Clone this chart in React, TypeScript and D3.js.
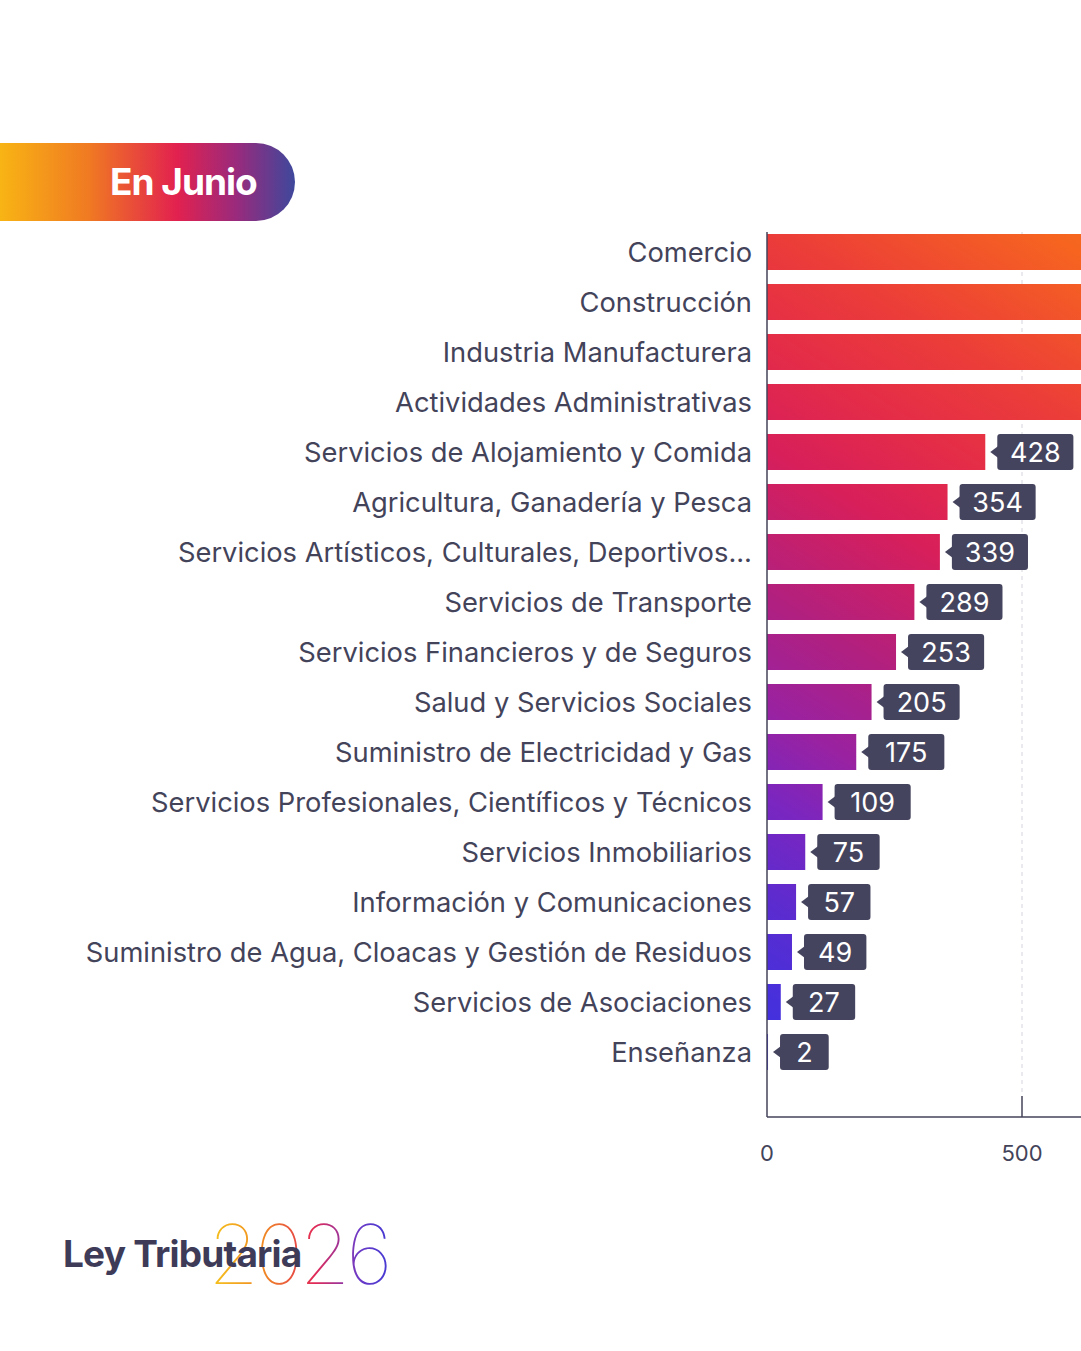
import * as d3 from 'd3';
import { useEffect, useRef } from 'react';

// categories, top to bottom
const sectors = [
    'Comercio',
    'Construcción',
    'Industria Manufacturera',
    'Actividades Administrativas',
    'Servicios de Alojamiento y Comida',
    'Agricultura, Ganadería y Pesca',
    'Servicios Artísticos, Culturales, Deportivos...',
    'Servicios de Transporte',
    'Servicios Financieros y de Seguros',
    'Salud y Servicios Sociales',
    'Suministro de Electricidad y Gas',
    'Servicios Profesionales, Científicos y Técnicos',
    'Servicios Inmobiliarios',
    'Información y Comunicaciones',
    'Suministro de Agua, Cloacas y Gestión de Residuos',
    'Servicios de Asociaciones',
    'Enseñanza'
];

// first four run past the right edge of the picture, values estimated
const counts = [1412, 1005, 873, 654, 428, 354, 339, 289, 253, 205, 175, 109, 75, 57, 49, 27, 2];

const xTicks = [0, 500];

const barStops = [
    { offset: 0, color: '#4030e0' },
    { offset: 0.06, color: '#4630dc' },
    { offset: 0.14, color: '#5a2cd0' },
    { offset: 0.23, color: '#7a26c0' },
    { offset: 0.31, color: '#9a22a0' },
    { offset: 0.4, color: '#b02080' },
    { offset: 0.53, color: '#d81f5a' },
    { offset: 0.62, color: '#e42c48' },
    { offset: 0.72, color: '#ec3e38' },
    { offset: 0.86, color: '#f66420' },
    { offset: 1, color: '#fa7a14' }
];

const pillStops = [
    { offset: 0, color: '#f8b414' },
    { offset: 0.3, color: '#f07a22' },
    { offset: 0.6, color: '#e2214f' },
    { offset: 0.8, color: '#9a2a7c' },
    { offset: 1, color: '#3e489c' }
];

const yearStops = [
    { offset: 0, color: '#f5c41c' },
    { offset: 0.3, color: '#f08a22' },
    { offset: 0.6, color: '#e22a56' },
    { offset: 0.85, color: '#6e3ac6' },
    { offset: 1, color: '#4a3ad2' }
];

const W = 1081;
const H = 1351;
const textColor = '#43435a';
const boxColor = '#45445e';
const font = 'Inter, "Noto Sans", sans-serif';

export default function App() {
    const ref = useRef<any>();

    useEffect(() => {
        const svg = d3.select(ref.current);
        svg.selectAll('*').remove();
        svg.attr('width', W).attr('height', H);

        const x = d3.scaleLinear().domain([0, 500]).range([767, 1022]);
        const y = d3.scaleBand().domain(sectors).range([227, 1077]).paddingInner(0.28).paddingOuter(0.14);

        const defs = svg.append('defs');
        const addGrad = (id: string, stops: any[], x1: number, y1: number, x2: number, y2: number) => {
            const g = defs.append('linearGradient').attr('id', id)
                .attr('gradientUnits', 'userSpaceOnUse')
                .attr('x1', x1).attr('y1', y1).attr('x2', x2).attr('y2', y2);
            g.selectAll('stop').data(stops).join('stop')
                .attr('offset', (d: any) => d.offset)
                .attr('stop-color', (d: any) => d.color);
        };
        addGrad('barGrad', barStops, 767, 1070, 1300, 230);
        addGrad('pillGrad', pillStops, 0, 0, 295, 0);
        addGrad('yearGrad', yearStops, 210, 0, 384, 0);

        // header pill
        const pill = svg.append('g');
        pill.append('path')
            .attr('d', 'M0,143 H256 A39,39 0 0 1 256,221 H0 Z')
            .attr('fill', 'url(#pillGrad)');
        pill.append('text')
            .attr('x', 110).attr('y', 195)
            .attr('fill', '#fff')
            .attr('font-family', font)
            .attr('font-weight', 700)
            .attr('font-size', 37)
            .attr('letter-spacing', -1)
            .text('En Junio');

        // grid
        svg.append('line')
            .attr('x1', x(500)).attr('x2', x(500))
            .attr('y1', 232).attr('y2', 1096)
            .attr('stroke', '#d6d6de').attr('stroke-dasharray', '4,4');

        // bars
        svg.append('g').selectAll('rect').data(counts).join('rect')
            .attr('x', x(0))
            .attr('y', (d: any, i: number) => y(sectors[i]))
            .attr('width', (d: any) => x(d) - x(0))
            .attr('height', y.bandwidth())
            .attr('fill', 'url(#barGrad)');

        // axes
        const axis = svg.append('g').attr('stroke', textColor).attr('stroke-width', 1.5);
        axis.append('line').attr('x1', 767).attr('x2', 767).attr('y1', 232).attr('y2', 1117);
        axis.append('line').attr('x1', 767).attr('x2', W).attr('y1', 1117).attr('y2', 1117);
        axis.selectAll('.tick').data(xTicks.filter(t => t > 0)).join('line')
            .attr('x1', (d: any) => x(d)).attr('x2', (d: any) => x(d))
            .attr('y1', 1096).attr('y2', 1117);
        svg.append('g').selectAll('text').data(xTicks).join('text')
            .attr('x', (d: any) => x(d)).attr('y', 1161)
            .attr('text-anchor', 'middle')
            .attr('fill', textColor)
            .attr('font-family', font)
            .attr('font-size', 22)
            .text((d: any) => d);

        // category labels
        svg.append('g').selectAll('text').data(sectors).join('text')
            .attr('x', 752)
            .attr('y', (d: any) => (y(d) as number) + y.bandwidth() / 2)
            .attr('dy', '0.35em')
            .attr('text-anchor', 'end')
            .attr('fill', textColor)
            .attr('font-family', font)
            .attr('font-size', 27.3)
            .text((d: any) => d);

        // value tags
        const tags = svg.append('g').selectAll('g').data(counts).join('g')
            .attr('transform', (d: any, i: number) => `translate(${x(d)},${(y(sectors[i]) as number) + y.bandwidth() / 2})`);
        tags.each(function (d: any) {
            const g = d3.select(this);
            const label = String(d);
            const bw = 35 + label.length * 13.7;
            g.append('rect')
                .attr('x', 12).attr('y', -18)
                .attr('width', bw).attr('height', 36)
                .attr('rx', 3)
                .attr('fill', boxColor);
            g.append('path')
                .attr('d', 'M5,0 L13,-6 L13,6 Z')
                .attr('fill', boxColor);
            g.append('text')
                .attr('x', 12 + bw / 2).attr('y', 0)
                .attr('dy', '0.36em')
                .attr('text-anchor', 'middle')
                .attr('fill', '#fff')
                .attr('font-family', font)
                .attr('font-size', 27)
                .text(label);
        });

        // logo
        svg.append('text')
            .attr('x', 208).attr('y', 1284)
            .attr('fill', 'url(#yearGrad)')
            .attr('font-family', 'Inter, Lato, sans-serif')
            .attr('font-weight', 100)
            .attr('font-size', 82)
            .attr('letter-spacing', -4)
            .text('2026');
        svg.append('text')
            .attr('x', 63).attr('y', 1267)
            .attr('fill', '#3d3b58')
            .attr('font-family', font)
            .attr('font-weight', 700)
            .attr('font-size', 37)
            .attr('letter-spacing', -0.8)
            .text('Ley Tributaria');
    }, []);

    return (
        <svg ref={ref} style={{ position: 'absolute', left: 0, top: 0, background: '#fff' }}></svg>
    );
}
